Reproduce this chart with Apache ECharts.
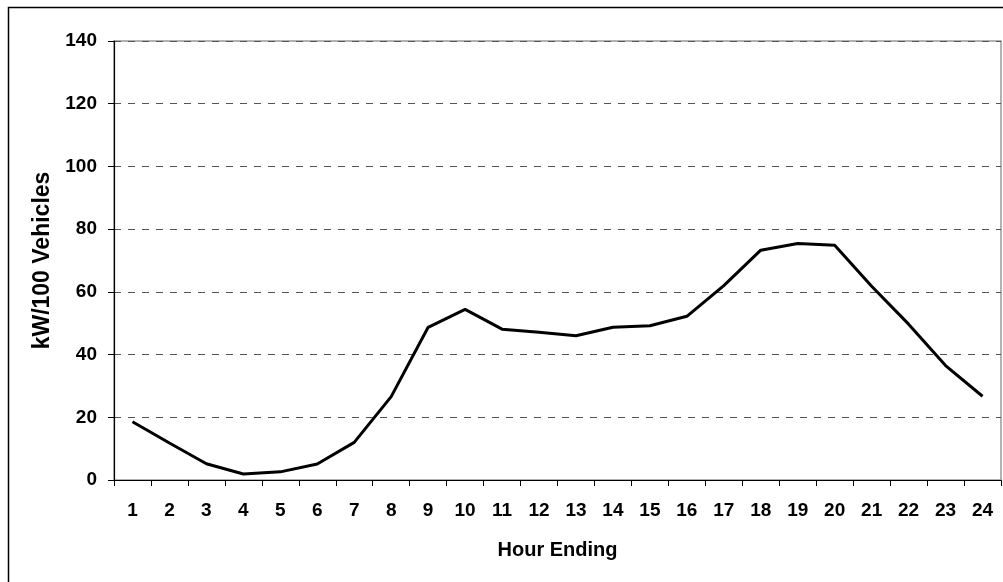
<!DOCTYPE html>
<html>
<head>
<meta charset="utf-8">
<title>kW/100 Vehicles by Hour Ending</title>
<script src="https://cdn.jsdelivr.net/npm/echarts@6/dist/echarts.min.js"></script>
<style>
  html, body { margin: 0; padding: 0; background: #fff; }
  #main { width: 1003px; height: 582px; }
</style>
</head>
<body>
<div id="main"></div>
<script>
// hours 1..24 on the category axis
var hours = ['1', '2', '3', '4', '5', '6', '7', '8', '9', '10', '11', '12',
  '13', '14', '15', '16', '17', '18', '19', '20', '21', '22', '23', '24'];

// load per 100 vehicles
var loadValues = [18.6, 11.8, 5.2, 1.9, 2.6, 5.1, 12.0, 26.6, 48.7, 54.4, 48.1, 47.1,
  46.0, 48.7, 49.2, 52.2, 62.0, 73.3, 75.4, 74.9, 61.8, 49.7, 36.5, 26.7];

var yTicks = [0, 20, 40, 60, 80, 100, 120, 140];

var FONT = "'Liberation Sans', Arial, sans-serif";

var myChart = echarts.init(document.getElementById('main'));

var option = {
  animation: false,
  backgroundColor: '#fff',
  graphic: [
    {
      // outer chart frame, runs off the right/bottom edge
      type: 'rect',
      shape: { x: 8.5, y: 7.5, width: 1100, height: 700 },
      style: { fill: 'none', stroke: '#000', lineWidth: 1.5 },
      z: -1
    }
  ],
  grid: {
    left: 114,
    right: 2,
    top: 41,
    bottom: 102,
    show: true,
    borderColor: '#999',
    borderWidth: 1.5
  },
  xAxis: {
    type: 'category',
    data: hours,
    boundaryGap: true,
    name: 'Hour Ending',
    nameLocation: 'middle',
    nameGap: 60,
    nameTextStyle: { fontFamily: FONT, fontWeight: 'bold', fontSize: 20, color: '#000' },
    axisLine: { lineStyle: { color: '#000', width: 1.2 } },
    axisTick: { show: true, length: 6, inside: false, lineStyle: { color: '#000' } },
    axisLabel: {
      margin: 21,
      fontFamily: FONT, fontWeight: 'bold', fontSize: 19, color: '#000'
    },
    splitLine: { show: false }
  },
  yAxis: {
    type: 'value',
    min: yTicks[0],
    max: yTicks[yTicks.length - 1],
    interval: yTicks[1] - yTicks[0],
    name: 'kW/100 Vehicles',
    nameLocation: 'middle',
    nameGap: 58,
    nameTextStyle: { fontFamily: FONT, fontWeight: 'bold', fontSize: 23, color: '#000' },
    axisLine: { show: true, lineStyle: { color: '#000', width: 1.2 } },
    axisTick: { show: true, length: 6, inside: false, lineStyle: { color: '#000' } },
    axisLabel: {
      margin: 17,
      fontFamily: FONT, fontWeight: 'bold', fontSize: 19, color: '#000'
    },
    splitLine: {
      show: true,
      lineStyle: { color: '#555', width: 1, type: [7, 7] }
    }
  },
  series: [
    {
      name: 'kW/100 Vehicles',
      type: 'line',
      data: loadValues,
      showSymbol: false,
      symbol: 'none',
      lineStyle: { color: '#000', width: 3 },
      z: 5
    }
  ]
};

myChart.setOption(option);
</script>
</body>
</html>
